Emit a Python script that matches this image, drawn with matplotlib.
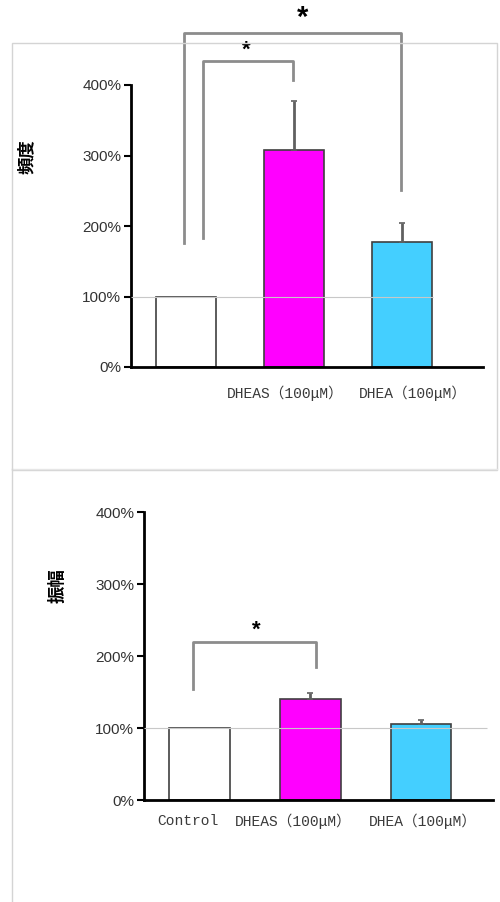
import numpy as np
import matplotlib
matplotlib.use("Agg")
import matplotlib.pyplot as plt
from matplotlib.lines import Line2D
from matplotlib.patches import Rectangle

# data
groups = ["Control", "DHEAS（100μM）", "DHEA（100μM）"]
freq_vals = [100, 308, 177]
freq_err = [0, 69, 27]
amp_vals = [100, 140, 106]
amp_err = [0.5, 8, 5]
colors = ["#FFFFFF", "#FF00FF", "#44CFFF"]

# significance brackets: (x_left, y_left, x_right, y_right, y_top)
freq_brackets = [(-0.02, 176, 1.99, 251, 474), (0.16, 183, 0.99, 407, 434)]
freq_stars = [(1.08, 495, 21), (0.56, 450, 16)]
amp_brackets = [(-0.06, 154, 1.05, 185, 220)]
amp_stars = [(0.51, 236, 16)]

W, H = 500, 902
fig = plt.figure(figsize=(W / 100, H / 100), dpi=100)

def px(x0, y0, x1, y1):
    # pixel box -> figure fraction [left, bottom, width, height]
    return [x0 / W, 1 - y1 / H, (x1 - x0) / W, (y1 - y0) / H]

# panel frames
fig.patches.append(Rectangle((12 / W, 1 - 470 / H), 485 / W, 427 / H, transform=fig.transFigure,
                             fill=False, edgecolor="#d4d4d4", lw=1))
fig.lines.append(Line2D([12 / W, 497 / W], [1 - 469 / H] * 2, transform=fig.transFigure, color="#e6e6e6", lw=1))
fig.lines.append(Line2D([12 / W, 12 / W], [1 - 469 / H, 0], transform=fig.transFigure, color="#d4d4d4", lw=1))

tick_font = ["Liberation Mono", "Noto Sans CJK JP"]


def panel(ax, vals, errs, labels, ylabel, xlim, line_end, brackets, stars, lab_xy, width, shifts, xpad):
    x = np.arange(len(vals))
    ax.bar(x, vals, width=width, color=colors, edgecolor="#404040", linewidth=1.2, zorder=2)
    for xi, v, e in zip(x, vals, errs):
        if e > 0:
            ax.errorbar(xi, v, yerr=[[0], [e]], fmt="none", ecolor="#606060", elinewidth=2,
                        capsize=2.5, capthick=1.2, zorder=3)
    ax.hlines(100, xlim[0], line_end, color="#c8c8c8", lw=0.8, zorder=4)
    for xl, yl, xr, yr, yt in brackets:
        ax.plot([xl, xl, xr, xr], [yl, yt, yt, yr], color="#8c8c8c", lw=2, clip_on=False, zorder=5)
    for sx, sy, fs in stars:
        ax.text(sx, sy, "*", ha="center", va="center", fontsize=fs, fontweight="bold",
                family="Liberation Sans", clip_on=False)
    ax.set_xlim(*xlim)
    ax.set_ylim(0, 400)
    ax.set_yticks([0, 100, 200, 300, 400])
    ax.set_yticklabels(["0%", "100%", "200%", "300%", "400%"], family="Liberation Sans",
                       fontsize=11, color="#333333")
    # labels sit a little off the bar centres in the original
    ax.set_xticks(x + np.array(shifts))
    ax.set_xticklabels(labels, family=tick_font, fontsize=10.5, color="#3a3a3a")
    ax.tick_params(axis="x", length=0, pad=xpad)
    ax.tick_params(axis="y", length=5, width=1.5, direction="out", pad=2)
    for s in ["top", "right"]:
        ax.spines[s].set_visible(False)
    ax.spines["left"].set_linewidth(2)
    ax.spines["bottom"].set_linewidth(2)
    ax.set_ylabel(ylabel, family="Noto Sans CJK JP", fontsize=12.5, fontweight="bold",
                  va="center")
    ax.yaxis.set_label_coords(*lab_xy)
    ax.set_facecolor("none")


ax1 = fig.add_axes(px(131, 85, 483, 367))
panel(ax1, freq_vals, freq_err, ["", groups[1], groups[2]], "頻度", (-0.509, 2.75), 2.29,
      freq_brackets, freq_stars, (-0.295, 0.745), 0.556, [0, -0.083, 0.10], 13)

ax2 = fig.add_axes(px(144, 512, 493, 800))
panel(ax2, amp_vals, amp_err, groups, "振幅", (-0.501, 2.65), 2.6,
      amp_brackets, amp_stars, (-0.246, 0.746), 0.55, [-0.108, -0.154, 0.018], 10)

fig.savefig("out.png", dpi=100)
